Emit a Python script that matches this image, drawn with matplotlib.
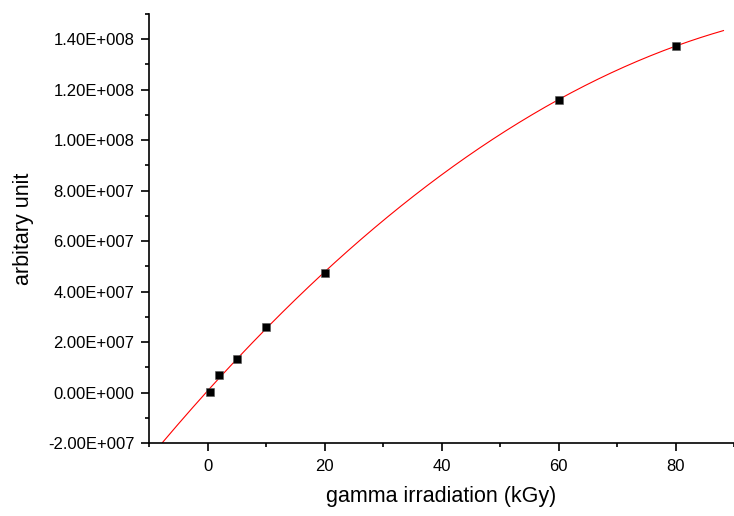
import numpy as np
import matplotlib
matplotlib.use("Agg")
import matplotlib.pyplot as plt
from matplotlib.ticker import MultipleLocator, FuncFormatter

plt.rcParams['font.family'] = ['Liberation Sans', 'DejaVu Sans']

# Data
dose_kgy = [0.5, 2, 5, 10, 20, 60, 80]
signal = [0.3e6, 6.8e6, 13.4e6, 26.1e6, 47.4e6, 115.8e6, 137.4e6]
fit_range = [-7.7, 88.2]

x_label = "gamma irradiation (kGy)"
y_label = "arbitary unit"


def origin_sci(v, pos=None):
    if v == 0:
        return "0.00E+000"
    exp = int(np.floor(np.log10(abs(v))))
    mant = v / 10 ** exp
    if round(abs(mant), 2) >= 10:
        mant /= 10
        exp += 1
    sign = "+" if exp >= 0 else "-"
    return f"{mant:.2f}E{sign}{abs(exp):03d}"


fig = plt.figure(figsize=(7.34, 5.16), dpi=100)
ax = fig.add_axes([0.203, 0.1415, 0.797, 0.8314])

# quadratic least-squares fit of the data, as drawn in the reference
coef = np.polyfit(dose_kgy, signal, 2)
xf = np.linspace(fit_range[0], fit_range[1], 300)
ax.plot(xf, np.polyval(coef, xf), color='red', lw=0.8, zorder=2)

ax.plot(dose_kgy, signal, ls='none', marker='s', ms=6.2, mfc='black',
        mec='#555555', mew=0.4, zorder=3)

ax.set_xlim(-10, 90)
ax.set_ylim(-2e7, 1.5e8)

ax.xaxis.set_major_locator(MultipleLocator(20))
ax.xaxis.set_minor_locator(MultipleLocator(10))
ax.yaxis.set_major_locator(MultipleLocator(2e7))
ax.yaxis.set_minor_locator(MultipleLocator(1e7))
ax.yaxis.set_major_formatter(FuncFormatter(origin_sci))
ax.xaxis.set_major_formatter(FuncFormatter(lambda v, p: f"{v:.0f}"))

for s in ['top', 'right']:
    ax.spines[s].set_visible(False)
for s in ['left', 'bottom']:
    ax.spines[s].set_linewidth(1.2)

ax.tick_params(axis='both', which='major', direction='out', length=5.5,
               width=1.2, labelsize=12)
ax.tick_params(axis='both', which='minor', direction='out', length=3.2,
               width=1.2)
ax.tick_params(axis='x', which='major', pad=6)
ax.tick_params(axis='y', which='major', pad=5)

ax.set_xlabel(x_label, fontsize=15.5, labelpad=9)
ax.set_ylabel(y_label, fontsize=15.5, labelpad=10)

fig.savefig("out.png", dpi=100)
